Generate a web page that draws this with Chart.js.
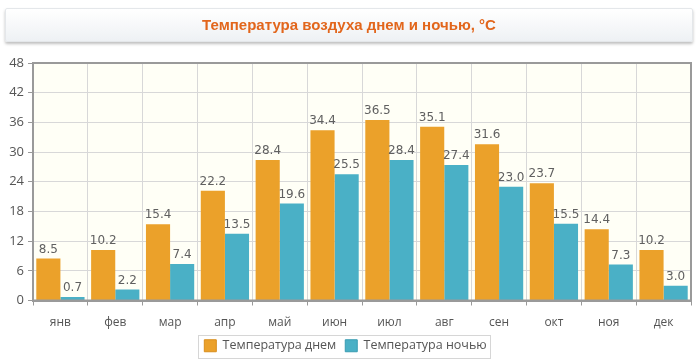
<!DOCTYPE html>
<html><head><meta charset="utf-8">
<script src="https://cdn.jsdelivr.net/npm/chart.js@4.4.1/dist/chart.umd.min.js"></script>
<style>
html,body{margin:0;padding:0;background:#fff;}
#wrap{position:relative;width:700px;height:362px;}
#title{position:absolute;left:5px;top:8px;width:686px;height:32px;border:1px solid #e4e7ea;border-radius:2px;
background:linear-gradient(#ffffff,#eef1f4);box-shadow:0 2px 3px rgba(0,0,0,0.25);
font:bold 15px "Liberation Sans",Arial,sans-serif;color:#e2661c;text-align:center;line-height:32px;}
canvas{position:absolute;left:0;top:0;}
</style></head>
<body><div id="wrap"><canvas id="c" width="700" height="362"></canvas><div id="title">Температура воздуха днем и ночью, °С</div></div>
<script>
const titleText = "Температура воздуха днем и ночью, °С";
const months = ["янв","фев","мар","апр","май","июн","июл","авг","сен","окт","ноя","дек"];
const dayTemps = [8.5,10.2,15.4,22.2,28.4,34.4,36.5,35.1,31.6,23.7,14.4,10.2];
const nightTemps = [0.7,2.2,7.4,13.5,19.6,25.5,28.4,27.4,23.0,15.5,7.3,3.0];
const seriesNames = ["Температура днем","Температура ночью"];
const yTicks = [0,6,12,18,24,30,36,42,48];

const plotBg = {
  id:'plotBg',
  beforeDraw(chart){
    const {ctx, chartArea:a} = chart;
    ctx.save(); ctx.fillStyle = '#fffff6'; ctx.fillRect(a.left,a.top,a.right-a.left,a.bottom-a.top); ctx.restore();
  },
  afterDatasetsDraw(chart){
    const {ctx, chartArea:a} = chart;
    ctx.save();
    ctx.strokeStyle = '#9a9a9a'; ctx.lineWidth = 2;
    ctx.strokeRect(a.left,a.top,a.right-a.left,a.bottom-a.top);
    ctx.font = '12px "DejaVu Sans", sans-serif';
    ctx.fillStyle = '#606060'; ctx.textAlign='center'; ctx.textBaseline='bottom';
    chart.data.datasets.forEach((ds,i)=>{
      chart.getDatasetMeta(i).data.forEach((el,j)=>{
        ctx.fillText(ds.data[j].toFixed(1), el.x, el.y-3);
      });
    });
    const lg = chart.legend;
    if (lg && lg.legendHitBoxes && lg.legendHitBoxes.length){
      const hb = lg.legendHitBoxes;
      const x0 = Math.min(...hb.map(h=>h.left))-6;
      const x1 = Math.max(...hb.map(h=>h.left+h.width))+4;
      const y0 = Math.min(...hb.map(h=>h.top))-5;
      const y1 = Math.max(...hb.map(h=>h.top+h.height))+5;
      ctx.strokeStyle = '#d6d6d6'; ctx.lineWidth = 1;
      ctx.strokeRect(Math.round(x0)+0.5,Math.round(y0)+0.5,Math.round(x1-x0),Math.round(y1-y0));
    }
    ctx.restore();
  }
};

new Chart(document.getElementById('c'), {
  type:'bar',
  data:{
    labels: months,
    datasets:[
      {label:seriesNames[0], data:dayTemps, backgroundColor:'#eba12a', borderColor:'#d98e1c', borderWidth:0,
       categoryPercentage:0.88, barPercentage:1.0},
      {label:seriesNames[1], data:nightTemps, backgroundColor:'#4ab0c6', borderColor:'#3a9cb2', borderWidth:0,
       categoryPercentage:0.88, barPercentage:1.0}
    ]
  },
  options:{
    responsive:false, animation:false,
    layout:{padding:{top:63, right:9, left:0, bottom:0}},
    plugins:{
      title:{display:false},
      tooltip:{enabled:false},
      legend:{position:'bottom',
        labels:{boxWidth:12, boxHeight:12, padding:9, color:'#555',
          font:{family:'"Open Sans", sans-serif', size:12.5},
          generateLabels(chart){
            return chart.data.datasets.map((ds,i)=>({text:ds.label, fillStyle:ds.backgroundColor, strokeStyle:ds.borderColor, lineWidth:1, datasetIndex:i, fontColor:'#555'}));
          }
        }
      }
    },
    scales:{
      x:{
        grid:{color:'#d8d8d8', lineWidth:1, drawTicks:true, tickLength:5, tickColor:'#999'},
        border:{color:'#9a9a9a', width:2},
        ticks:{color:'#555', padding:10, font:{family:'"Open Sans", sans-serif', size:12}},
        afterFit(s){ s.height = 30; }
      },
      y:{
        min:0, max:48,
        afterBuildTicks(s){ s.ticks = yTicks.map(v=>({value:v})); },
        grid:{color:'#d8d8d8', lineWidth:1, tickLength:5, tickColor:'#999'},
        border:{color:'#9a9a9a', width:2},
        ticks:{color:'#555', padding:4, font:{family:'"Open Sans", sans-serif', size:13}},
        afterFit(s){ s.width = 33; }
      }
    }
  },
  plugins:[plotBg]
});
</script></body></html>
